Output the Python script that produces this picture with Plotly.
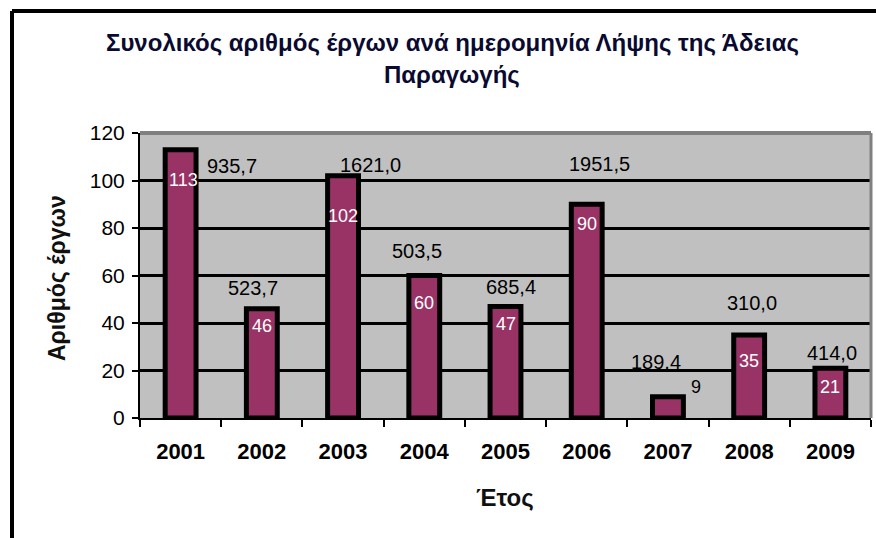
import plotly.graph_objects as go

# ---------------- data ----------------
years = ["2001", "2002", "2003", "2004", "2005", "2006", "2007", "2008", "2009"]
projects = [113, 46, 102, 60, 47, 90, 9, 35, 21]
capacity_labels = ["935,7", "523,7", "1621,0", "503,5", "685,4", "1951,5", "189,4", "310,0", "414,0"]

title_line1 = "Συνολικός αριθμός έργων ανά ημερομηνία Λήψης της Άδειας"
title_line2 = "Παραγωγής"
y_title = "Αριθμός έργων"
x_title = "Έτος"
y_ticks = [0, 20, 40, 60, 80, 100, 120]

# ---------------- label placement (pixel shifts, style only) ----------------
inner_shift_x = [3, 0, 0, 0, 0, 0, 28, 0, 0]
inner_shift_y = [-30, -17, -40, -27, -18, -20, 10, -26, -19]
inner_color = ["white"] * 6 + ["black"] + ["white"] * 2
cap_shift_x = [51, -9, 27, -7, 5, 13, -12, 3, 2]
cap_shift_y = [-16, 21, 11, 25, 19, 40, 35, 32, 15]

# ---------------- geometry ----------------
W, H = 876, 538
PL, PR, PT, PB = 140, 871, 133, 418   # plot area in px


def px_x(px):
    return (px - PL) / (PR - PL)


def px_y(py):
    return (PB - py) / (PB - PT)


FONT = "Liberation Sans, Arial, sans-serif"

fig = go.Figure()
fig.add_trace(go.Bar(
    x=years, y=projects, width=0.38,
    marker=dict(color="#993366", line=dict(color="black", width=5)),
    hoverinfo="x+y",
))

annotations = []
for i, yr in enumerate(years):
    annotations.append(dict(
        x=i, y=projects[i], xref="x", yref="y", text=str(projects[i]),
        showarrow=False, xshift=inner_shift_x[i], yshift=inner_shift_y[i],
        xanchor="center", yanchor="middle",
        font=dict(family=FONT, size=18, color=inner_color[i]),
    ))
    annotations.append(dict(
        x=i, y=projects[i], xref="x", yref="y", text=capacity_labels[i],
        showarrow=False, xshift=cap_shift_x[i], yshift=cap_shift_y[i],
        xanchor="center", yanchor="middle",
        font=dict(family=FONT, size=20, color="black"),
    ))

# titles
common = dict(xref="paper", yref="paper", showarrow=False, xanchor="center", yanchor="middle")
annotations += [
    dict(x=px_x(452), y=px_y(43), text="<b>%s</b>" % title_line1,
         font=dict(family=FONT, size=24, color="#0a0a30"), **common),
    dict(x=px_x(452), y=px_y(74), text="<b>%s</b>" % title_line2,
         font=dict(family=FONT, size=24, color="#0a0a30"), **common),
    dict(x=px_x(57), y=px_y(278), text="<b>%s</b>" % y_title, textangle=-90,
         font=dict(family=FONT, size=23, color="#101010"), **common),
    dict(x=px_x(505), y=px_y(497), text="<b>%s</b>" % x_title,
         font=dict(family=FONT, size=24, color="#101010"), **common),
]

shapes = [
    # grey plot-area frame (top / right)
    dict(type="line", xref="paper", yref="paper", x0=0, x1=1, y0=1, y1=1,
         line=dict(color="#808080", width=4)),
    dict(type="line", xref="paper", yref="paper", x0=1, x1=1, y0=0, y1=1,
         line=dict(color="#808080", width=3)),
    # outer chart border (top / left)
    dict(type="line", xref="paper", yref="paper", x0=px_x(12), x1=px_x(880), y0=px_y(11), y1=px_y(11),
         line=dict(color="black", width=4)),
    dict(type="line", xref="paper", yref="paper", x0=px_x(12), x1=px_x(12), y0=px_y(11), y1=px_y(545),
         line=dict(color="black", width=4)),
]

fig.update_layout(
    width=W, height=H,
    margin=dict(l=PL, r=W - PR, t=PT, b=H - PB, pad=0),
    paper_bgcolor="white", plot_bgcolor="#C0C0C0",
    showlegend=False,
    annotations=annotations, shapes=shapes,
    font=dict(family=FONT, color="black"),
)
fig.update_xaxes(
    type="category", range=[-0.5, len(years) - 0.5], autorange=False,
    showline=True, linecolor="black", linewidth=2,
    ticks="outside", tickson="boundaries", ticklen=7, tickwidth=2, tickcolor="black",
    tickfont=dict(family=FONT, size=22, color="black"), ticklabelstandoff=13, tickangle=0,
    showgrid=False, tickprefix="<b>", ticksuffix="</b>",
)
fig.update_yaxes(
    range=[0, 120], autorange=False, tickvals=y_ticks, showline=True, linecolor="black", linewidth=2,
    ticks="outside", ticklen=6, tickwidth=2, tickcolor="black",
    tickfont=dict(family=FONT, size=21, color="black"), ticklabelstandoff=3,
    showgrid=True, gridcolor="black", gridwidth=2.5, zeroline=False,
    tickprefix="<b>", ticksuffix="</b>",
)

fig.write_html(
    "out.html",
    config={"displayModeBar": False},
    post_script="document.body.style.margin='0';document.body.style.overflow='hidden';",
)
